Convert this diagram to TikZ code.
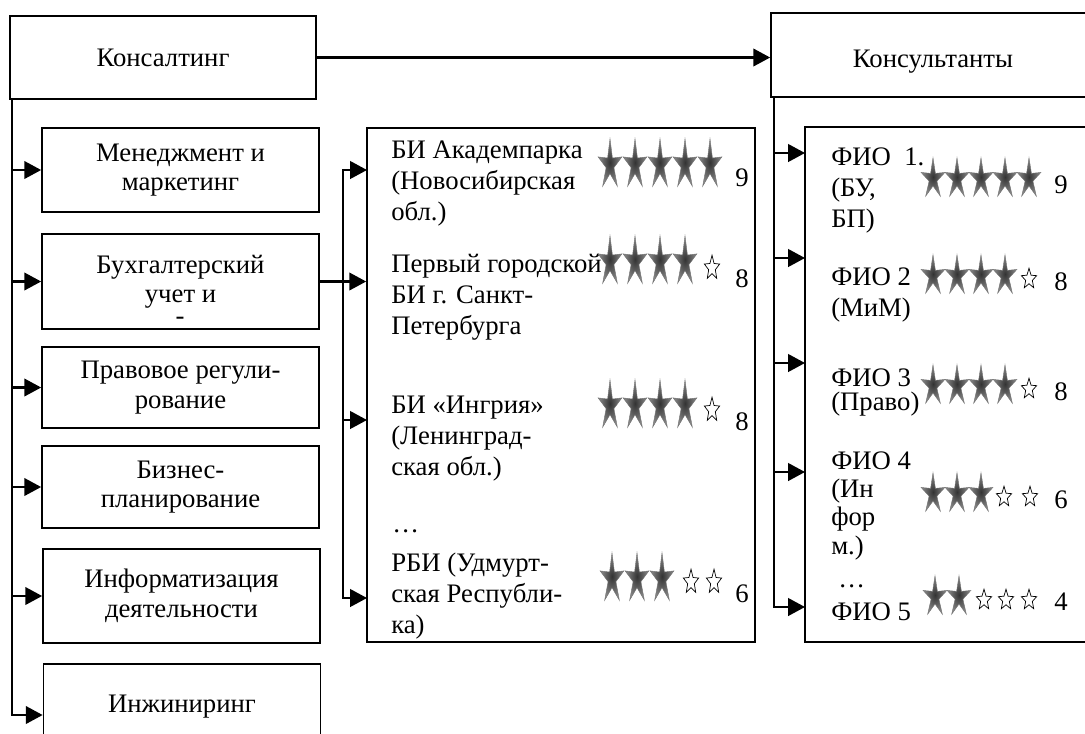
\documentclass[tikz,border=0pt]{standalone}
\usepackage{fontspec}
\setmainfont{Liberation Serif}
\usetikzlibrary{arrows.meta,calc}

\tikzset{
  box/.style 2 args={draw, line width=1.2pt, minimum width=#1*0.025cm, minimum height=#2*0.025cm, inner sep=0pt, align=center, font=\fontsize{19}{21}\selectfont},
  txt/.style={anchor=base west, inner sep=0pt, align=left, font=\fontsize{19}{22}\selectfont},
  num/.style={anchor=base, inner sep=0pt, font=\fontsize{19}{22}\selectfont},
  arr/.style={line width=1.6pt, -{Triangle[length=12pt,width=12.5pt]}},
  starfill/.style={draw=black!55, line width=0.3pt, inner color=black!80, outer color=black!45},
  fullstar/.pic={\shadedraw[starfill] (-90:12.5) \foreach \a in {1,...,5}{ -- (-126+72*\a:4.1) -- (-90+72*\a:12.5)} -- cycle;},
  openstar/.pic={\draw[line width=0.5pt] (-90:8) \foreach \a in {1,...,5}{ -- (-126+72*\a:3.5) -- (-90+72*\a:8)} -- cycle;}
}

\begin{document}
\begin{tikzpicture}[x=0.025cm, y=-0.025cm]
    \useasboundingbox (0,0) rectangle (1085,733);
    \clip (0,0) rectangle (1085,733);

    \node[box={306}{83}] (kons) at (163,57.5) {Консалтинг};
    \node[box={277}{84}] (b1) at (180.5,170) {Менеджмент и\\маркетинг};
    \node[box={277}{95}] (b2) at (180.5,281.5) {Бухгалтерский\\учет и};
    \node[num] (b2x) at (180,324) {-};
    \node[box={277}{81}] (b3) at (180.5,387.5) {Правовое регули-\\рование};
    \node[box={277}{82}] (b4) at (180.5,487) {Бизнес-\\планирование};
    \node[box={277}{94}] (b5) at (181.5,596) {Информатизация\\деятельности};
    \node[box={277}{102}] (b6) at (182,715) {};
    \node[num] (b6t) at (182,712) {Инжиниринг};

    \node[box={324}{84}] (kons2) at (933,55) {};
    \node[num] (kons2t) at (933,67) {Консультанты};
    \node[box={388}{514}] (mid) at (561,385) {};
    \node[box={295}{515}] (fio) at (952.5,384.5) {};

    \draw[arr] (kons.east) -- (kons.east -| kons2.west);
    \coordinate (lt) at ($(kons.south west)+(3,0)$);
    \foreach \i in {1,...,6}
        \draw[arr] (lt) |- (b\i.west);

    \coordinate (jm) at ($(b2.east)+(23,0)$);
    \coordinate (ma) at (367,170);
    \coordinate (mc) at (367,420);
    \coordinate (md) at (367,598);
    \draw[arr] (b2.east) -- (b2.east -| mid.west);
    \foreach \c in {ma,mc,md}
        \draw[arr] (jm) |- (\c);

    \coordinate (rt) at ($(kons2.south west)+(4,0)$);
    \coordinate (fa) at (805,153);
    \coordinate (fb) at (805,258);
    \coordinate (fc) at (805,363);
    \coordinate (fd) at (805,472);
    \coordinate (fe) at (805,607);
    \foreach \c in {fa,fb,fc,fd,fe}
        \draw[arr] (rt) |- (\c);

    \node[txt] (bi1) at (391,220) {БИ Академпарка\\(Новосибирская\\обл.)};
    \node[txt] (bi2) at (391,334) {Первый городской\\БИ г. Санкт-\\Петербурга};
    \node[txt] (bi3) at (391,475) {БИ «Ингрия»\\(Ленинград-\\ская обл.)};
    \node[txt] (bidots) at (392,532) {\ldots};
    \node[txt] (bi4) at (391,633) {РБИ (Удмурт-\\ская Республи-\\ка)};

    \foreach \i in {0,...,4} \pic[yscale=2.1] at ({610+25*\i},165) {fullstar};
    \foreach \i in {0,...,3} \pic[yscale=2.1] at ({610+25*\i},262) {fullstar};
    \pic[yscale=1.6] at (712,268) {openstar};
    \foreach \i in {0,...,3} \pic[yscale=2.1] at ({610+25*\i},406) {fullstar};
    \pic[yscale=1.6] at (712,410) {openstar};
    \foreach \i in {0,...,2} \pic[yscale=2.1] at ({612+25*\i},579) {fullstar};
    \foreach \x in {691,714} \pic[yscale=1.6] at (\x,582) {openstar};

    \node[num] (n1) at (742,186) {9};
    \node[num] (n2) at (742,287) {8};
    \node[num] (n3) at (742,430) {8};
    \node[num] (n4) at (742,602) {6};

    \node[txt] (fio1) at (831,227) {ФИО\ \ 1.\\(БУ,\\БП)};
    \node[txt] (fio2) at (831,316) {ФИО 2\\(МиМ)};
    \node[txt, font=\fontsize{19}{17}\selectfont] (fio3) at (831,410) {ФИО 3\\(Право)};
    \node[txt, font=\fontsize{19}{20}\selectfont] (fio4) at (831,554) {ФИО 4\\(Ин\\фор\\м.)};
    \node[txt] (fiodots) at (838,587) {\ldots};
    \node[txt] (fio5) at (831,620) {ФИО 5};

    \foreach \i in {0,...,4} \pic[yscale=1.7] at ({933+24*\i},179) {fullstar};
    \foreach \i in {0,...,3} \pic[yscale=1.7] at ({933+24*\i},276) {fullstar};
    \pic[yscale=1.35] at (1029,279) {openstar};
    \foreach \i in {0,...,3} \pic[yscale=1.7] at ({933+24*\i},386) {fullstar};
    \pic[yscale=1.35] at (1029,389) {openstar};
    \foreach \i in {0,...,2} \pic[yscale=1.7] at ({933+24*\i},494) {fullstar};
    \foreach \x in {1004,1030} \pic[yscale=1.35] at (\x,497) {openstar};
    \foreach \i in {0,...,1} \pic[yscale=1.7] at ({935+24*\i},597) {fullstar};
    \foreach \x in {984,1006,1029} \pic[yscale=1.35] at (\x,600) {openstar};

    \node[num] (r1) at (1061,193) {9};
    \node[num] (r2) at (1061,290) {8};
    \node[num] (r3) at (1061,400) {8};
    \node[num] (r4) at (1061,508) {6};
    \node[num] (r5) at (1061,610) {4};
\end{tikzpicture}
\end{document}
